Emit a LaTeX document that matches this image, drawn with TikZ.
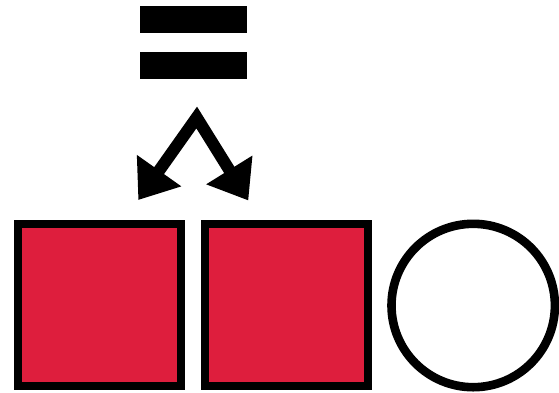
\documentclass[tikz,border=0pt]{standalone}
\usetikzlibrary{arrows.meta}
\definecolor{redfill}{RGB}{222,30,61}
\begin{document}
\begin{tikzpicture}[x=1pt,y=-1pt,
  bar/.style={fill=black,inner sep=0pt,outer sep=0pt,minimum width=106.7pt,minimum height=27pt},
  redbox/.style={draw=black,fill=redfill,line width=8pt,inner sep=0pt,minimum width=163pt,minimum height=162.5pt},
  ring/.style={draw=black,fill=white,circle,line width=8.6pt,inner sep=0pt,minimum size=163.4pt},
  forkarrow/.style={line width=12pt,line join=miter,{Triangle[length=36pt,width=52pt]}-{Triangle[length=36pt,width=52pt]}}]
\useasboundingbox (0,0) rectangle (559,392);
\node[bar] (bar1) at (193.3,19.2) {};
\node[bar] (bar2) at (193.3,65.8) {};
\coordinate (apex) at (196.7,117.5);
\coordinate (tipL) at (138.3,200);
\coordinate (tipR) at (248.3,200.5);
\draw[forkarrow] (tipL) -- (apex) -- (tipR);
\node[redbox] (sq1) at (99.5,305.2) {};
\node[redbox] (sq2) at (286.7,305.2) {};
\node[ring] (circ) at (473.2,305.5) {};
\end{tikzpicture}
\end{document}
